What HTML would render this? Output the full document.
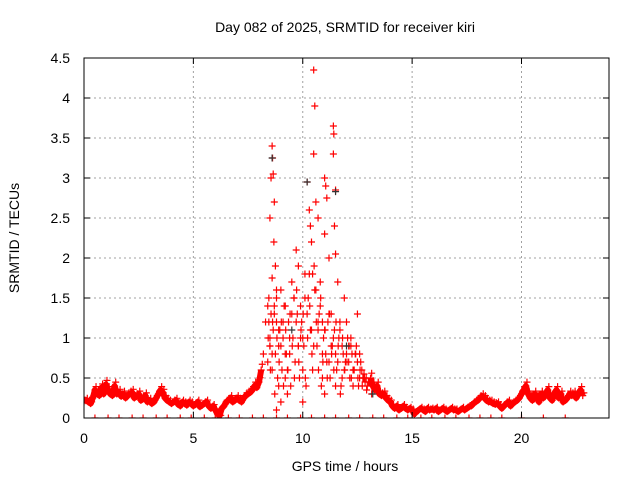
<!DOCTYPE html>
<html><head><meta charset="utf-8"><style>
html,body{margin:0;padding:0;background:#fff}
svg{display:block;font-family:"Liberation Sans",sans-serif}
</style></head><body>
<svg id="chart" width="640" height="480" viewBox="0 0 640 480" xmlns="http://www.w3.org/2000/svg">
<defs><clipPath id="pc"><rect x="84" y="58" width="525" height="360"/></clipPath></defs>
<rect x="0" y="0" width="640" height="480" fill="#fff"/>
<g id="grid"></g>
<g id="marks" clip-path="url(#pc)"></g>
<rect x="84" y="58" width="525" height="360" fill="none" stroke="#000" stroke-width="1"/>
<g id="ticks"></g>
<text x="345" y="32" font-size="14" text-anchor="middle">Day 082 of 2025, SRMTID for receiver kiri</text>
<text x="345" y="471" font-size="14" text-anchor="middle">GPS time / hours</text>
<text transform="translate(19,238) rotate(-90)" font-size="14" text-anchor="middle">SRMTID / TECUs</text>
</svg>
<script>
const xTicks=[0,5,10,15,20];
const yTicks=[0,0.5,1,1.5,2,2.5,3,3.5,4,4.5];
const yTickLabels=["0","0.5","1","1.5","2","2.5","3","3.5","4","4.5"];
const baseStart=0, baseStep=0.1;
const baseValues=[
0.2,0.22,0.2,0.18,0.25,0.35,0.3,0.28,0.38,0.3,
0.42,0.35,0.3,0.28,0.4,0.3,0.32,0.27,0.3,0.25,
0.28,0.3,0.32,0.25,0.27,0.3,0.22,0.24,0.28,0.2,
0.22,0.18,0.2,0.25,0.3,0.35,0.32,0.25,0.22,0.2,
0.18,0.2,0.22,0.17,0.15,0.2,0.18,0.16,0.2,0.18,
0.15,0.17,0.2,0.14,0.16,0.18,0.2,0.15,0.12,0.15,
0.1,0.05,0.03,0.12,0.15,0.2,0.22,0.25,0.2,0.22,
0.25,0.22,0.2,0.25,0.28,0.3,0.32,0.35,0.4,0.38,
0.45,0.6,0.8,1.2,1.4,1.0,0.8,1.3,1.5,1.1,
0.9,1.2,0.8,0.6,1.0,1.3,1.5,1.2,0.9,1.4,
1.0,1.5,1.3,1.8,1.1,0.9,1.6,1.2,1.4,0.8,
1.1,0.7,1.3,0.9,1.0,0.8,0.7,1.1,0.9,0.6,
0.8,0.7,0.9,0.6,0.8,0.7,0.5,0.6,0.55,0.5,
0.45,0.5,0.4,0.35,0.4,0.3,0.28,0.3,0.25,0.22,
0.2,0.15,0.12,0.15,0.1,0.12,0.15,0.12,0.1,0.12,
0.1,0.05,0.08,0.1,0.12,0.1,0.08,0.12,0.1,0.11,
0.1,0.12,0.08,0.1,0.12,0.1,0.08,0.1,0.12,0.1,
0.1,0.08,0.1,0.12,0.1,0.12,0.14,0.15,0.18,0.2,
0.22,0.25,0.27,0.25,0.22,0.2,0.2,0.18,0.17,0.18,
0.15,0.12,0.15,0.18,0.2,0.15,0.18,0.2,0.22,0.25,
0.3,0.35,0.4,0.3,0.25,0.22,0.3,0.25,0.2,0.3,
0.25,0.3,0.35,0.25,0.22,0.3,0.35,0.25,0.3,0.2,
0.22,0.25,0.3,0.28,0.3,0.25,0.3,0.35,0.28];
const spikeTimes=[8.5,8.55,8.6,8.62,8.65,8.7,8.68,8.75,8.6,8.8,8.45,8.9,9.0,9.1,9.2,9.3,9.4,9.5,9.6,9.7,9.8,9.9,10.0,10.1,10.2,10.3,10.35,10.4,10.45,10.5,10.55,10.5,10.6,10.7,10.8,10.9,11.0,11.05,11.1,11.0,11.2,11.3,11.4,11.42,11.4,11.5,11.45,11.5,11.6,11.7,11.8,11.9,12.0,12.2,12.5,12.6,12.8,11.0,10.0,9.0,11.5,8.8,9.8,10.9,12.3,8.5,9.2,10.7,11.2,12.1,
8.4,8.45,8.5,8.55,8.6,8.65,8.7,8.75,8.8,8.85,8.9,8.95,9.05,9.15,9.25,9.35,9.45,9.55,9.65,9.75,9.85,9.95,10.05,10.15,10.25,10.35,10.45,10.55,10.65,10.75,10.85,10.95,11.05,11.15,11.25,11.35,11.45,11.55,11.65,11.75,11.85,11.95,12.05,12.15,12.25,12.35,12.45,12.55,12.65,12.75,12.85,12.95,
8.42,8.52,8.62,8.72,8.82,8.92,9.02,9.12,9.22,9.32,9.42,9.52,9.62,9.72,9.82,9.92,10.02,10.12,10.22,10.32,10.42,10.52,10.62,10.72,10.82,10.92,11.02,11.12,11.22,11.32,11.42,11.52,11.62,11.72,11.82,11.92,12.02,12.12,12.22,12.32,12.42,12.52,12.62,12.72,12.82,12.92,13.05,13.15];
const spikeValues=[2.5,3.0,3.4,3.25,3.05,2.7,2.2,1.9,1.75,1.6,1.2,0.4,1.6,1.0,0.5,0.3,0.8,1.7,1.5,2.1,1.9,1.0,0.6,1.8,2.95,2.6,2.4,2.2,1.8,4.35,3.9,3.3,2.7,2.5,1.7,1.2,3.0,2.9,2.75,2.3,2.0,1.3,3.65,3.55,3.3,2.85,2.4,2.05,1.7,1.2,0.5,1.5,1.2,1.0,1.3,0.8,0.5,0.3,0.2,0.2,0.4,0.1,0.9,0.5,0.4,0.9,1.4,1.1,0.7,0.9,
0.7,1.5,0.9,1.3,0.6,1.1,1.4,0.8,1.2,0.5,0.9,1.1,0.6,1.4,0.8,1.2,0.4,1.0,0.7,1.3,0.5,1.2,0.9,0.4,1.5,1.1,0.6,1.6,0.9,1.3,0.4,1.0,0.8,1.2,0.5,0.9,1.1,0.6,1.0,0.4,0.8,0.7,1.0,0.5,0.8,0.6,0.9,0.4,0.7,0.5,0.45,0.4,
1.0,0.6,1.2,0.3,1.0,0.7,1.2,0.4,1.1,0.6,1.3,0.9,0.5,1.6,0.7,1.1,1.3,0.5,1.0,1.4,0.8,1.9,1.2,0.6,1.5,0.7,1.1,0.5,1.3,0.8,0.6,1.2,0.9,0.3,1.0,0.6,0.7,0.9,0.5,0.6,0.8,0.5,0.6,0.4,0.5,0.35,0.45,0.3];
const darkTimes=[8.6,10.2,11.5,9.5,12.0,13.2];
const darkValues=[3.25,2.95,2.83,1.1,0.9,0.3];
const zeroTimes=[0.5,1.1,1.6,2.2,2.7,3.3,3.8,4.4,4.9,5.5,6.0,6.6,7.1,7.7,8.2,8.8,9.3,9.9,10.4,11.0,11.5,12.1,12.6,13.2,13.7,14.3,14.8,15.4,15.9,16.5,17.0,17.6,18.1,18.6,19.1,20.0,21.0,22.0];

const NS="http://www.w3.org/2000/svg";
const X0=84,X1=609,Y0=418,Y1=58,XMAX=24,YMAX=4.5;
function xs(t){return X0+(X1-X0)*t/XMAX;}
function ys(v){return Y0-(Y0-Y1)*v/YMAX;}
function mk(tag,attrs,parent){const e=document.createElementNS(NS,tag);for(const k in attrs)e.setAttribute(k,attrs[k]);parent.appendChild(e);return e;}
const grid=document.getElementById('grid'),ticks=document.getElementById('ticks'),marks=document.getElementById('marks');
yTicks.forEach((v,i)=>{
  const y=ys(v);
  if(v>0&&v<YMAX){const g=mk('line',{x1:X0,x2:X1,y1:y,y2:y,stroke:'#a0a0a0','stroke-dasharray':'2,3'},grid);
  
  }
  const t=mk('path',{d:`M${X0} ${y}h6M${X1} ${y}h-6`,stroke:'#000'},ticks);
  
  
  const l=mk('text',{x:70,y:y+5,'font-size':14,'text-anchor':'end'},ticks);l.textContent=yTickLabels[i];
  
  
});
xTicks.forEach(t=>{
  const x=xs(t);
  if(t>0){const g=mk('line',{x1:x,x2:x,y1:Y0,y2:Y1,stroke:'#a0a0a0','stroke-dasharray':'2,3'},grid);
  
  }
  const k=mk('path',{d:`M${x} ${Y0}v-6M${x} ${Y1}v6`,stroke:'#000'},ticks);
  
  
  const l=mk('text',{x:x,y:443,'font-size':14,'text-anchor':'middle'},ticks);l.textContent=String(t);
  
  
});
// dense band through quiet-period base values (skip the storm interval)
let d='',pen=false;
baseValues.forEach((v,i)=>{const t=baseStart+i*baseStep;
  if(t>8.15&&t<13.05){pen=false;return;}
  d+=(pen?'L':'M')+xs(t).toFixed(1)+' '+ys(v).toFixed(1);pen=true;});
const band=mk('path',{d:d,fill:'none',stroke:'#f00','stroke-width':6,'stroke-linejoin':'round'},marks);


function plus(t,v,color,name){
  const x=xs(t),y=ys(v);
  const p=mk('path',{d:`M${x-3.5} ${y}h7M${x} ${y-3.5}v7`,stroke:color,'stroke-width':1.2},marks);
  
  
}
baseValues.forEach((v,i)=>{const t=baseStart+i*baseStep;plus(t,v,'#f00','srmtid-point');if(t<8.15||t>13.05)plus(t+0.05,v*1.12,'#f00','srmtid-point');});
spikeTimes.forEach((t,i)=>plus(t,spikeValues[i],'#f00','srmtid-spike-point'));
darkTimes.forEach((t,i)=>plus(t,darkValues[i],'#333','srmtid-dark-point'));
zeroTimes.forEach(t=>plus(t,0,'#f00','zero-point'));
</script>
</body></html>
